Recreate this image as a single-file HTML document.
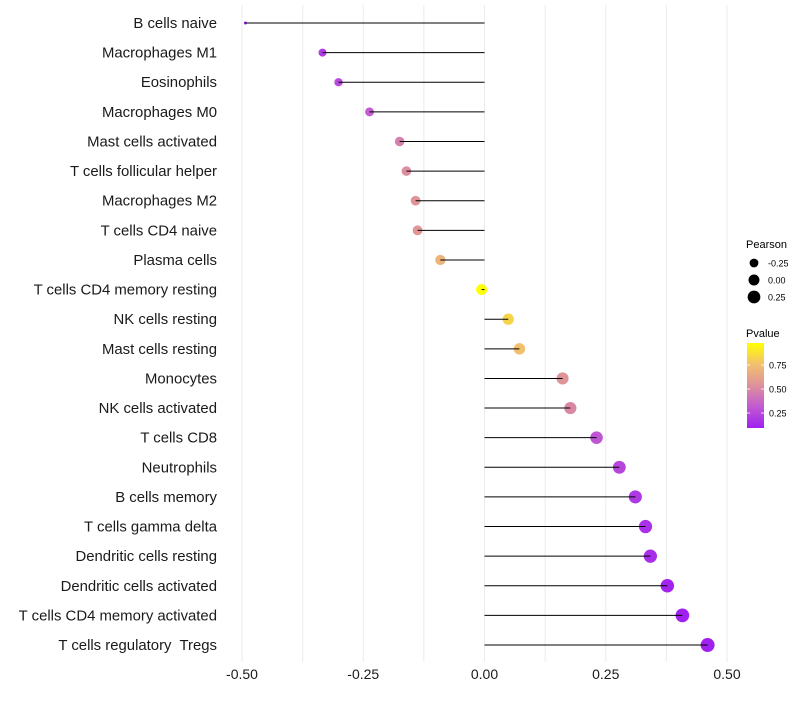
<!DOCTYPE html>
<html><head><meta charset="utf-8"><style>
body{margin:0;background:#fff;font-family:"Liberation Sans",sans-serif}
text{white-space:pre}
</style></head><body>
<svg id="chart" width="800" height="700" xmlns="http://www.w3.org/2000/svg"></svg>
<script>
const categories=["B cells naive","Macrophages M1","Eosinophils","Macrophages M0","Mast cells activated","T cells follicular helper","Macrophages M2","T cells CD4 naive","Plasma cells","T cells CD4 memory resting","NK cells resting","Mast cells resting","Monocytes","NK cells activated","T cells CD8","Neutrophils","B cells memory","T cells gamma delta","Dendritic cells resting","Dendritic cells activated","T cells CD4 memory activated","T cells regulatory  Tregs"];
const pearson=[-0.493,-0.334,-0.301,-0.237,-0.175,-0.161,-0.142,-0.138,-0.091,-0.006,0.049,0.072,0.161,0.177,0.231,0.278,0.311,0.332,0.342,0.377,0.408,0.460];
const pvalue=[0.02,0.2,0.25,0.33,0.47,0.52,0.55,0.56,0.7,0.98,0.83,0.76,0.55,0.5,0.3,0.24,0.19,0.16,0.15,0.11,0.08,0.05];
const xTicks=[-0.5,-0.25,0,0.25,0.5];
const xTickLabels=["-0.50","-0.25","0.00","0.25","0.50"];
const sizeLegend=[-0.25,0,0.25];
const sizeLegendLabels=["-0.25","0.00","0.25"];
const colorLegend=[0.75,0.5,0.25];
const colorLegendLabels=["0.75","0.50","0.25"];

const NS="http://www.w3.org/2000/svg";
const svg=document.getElementById('chart');
function x(v){return 484.5+v*485;}
function y(i){return 23+i*29.62;}
function rad(v){
 if(v<-0.334){const r=1.5+(v+0.493)/(0.159)*2.5;return Math.max(1.2,r);}
 return Math.sqrt(16+41.6*(v+0.334));
}
const pMin=0.094,pMax=0.98;
const stops=[[0,[160,32,240]],[0.25,[192,90,210]],[0.5,[222,145,155]],[0.75,[242,192,110]],[1,[255,255,0]]];
function col(p){let t=Math.min(1,Math.max(0,(p-pMin)/(pMax-pMin)));
 for(let k=1;k<stops.length;k++){if(t<=stops[k][0]){const a=stops[k-1],b=stops[k];const u=(t-a[0])/(b[0]-a[0]);
 const c=a[1].map((v,j)=>Math.round(v+(b[1][j]-v)*u));return `rgb(${c[0]},${c[1]},${c[2]})`;}}return 'rgb(255,255,0)';}
function el(tag,attrs,parent){const e=document.createElementNS(NS,tag);for(const k in attrs)e.setAttribute(k,attrs[k]);(parent||svg).appendChild(e);return e;}

const grid=el('g',{});


for(let v=-0.5;v<=0.5001;v+=0.125){
 const l=el('line',{x1:x(v),x2:x(v),y1:5,y2:662,stroke:'#ebebeb','stroke-width':1},grid);
 
 
}
categories.forEach((c,i)=>{
 const g=el('g',{});
 
 
 const lab=el('text',{x:217,y:y(i)+5,'text-anchor':'end','font-size':14.9,fill:'#1a1a1a'},g);
 lab.textContent=c;
 
 
 const pt=el('circle',{cx:x(pearson[i]),cy:y(i),r:rad(pearson[i]),fill:col(pvalue[i])},g);
 
 
 const ln=el('line',{x1:x(0),x2:x(pearson[i]),y1:y(i),y2:y(i),stroke:'#000','stroke-width':1},g);
 
 
});
xTicks.forEach((v,i)=>{
 const t=el('text',{x:x(v),y:679,'text-anchor':'middle','font-size':14,fill:'#1a1a1a'});
 t.textContent=xTickLabels[i];
 
 
});
const sl=el('g',{});


const st=el('text',{x:746,y:248,'font-size':11,fill:'#000'},sl);st.textContent='Pearson';


sizeLegend.forEach((v,i)=>{
 const cy=263+i*17;
 const c=el('circle',{cx:754,cy:cy,r:rad(v),fill:'#000'},sl);
 
 
 const t=el('text',{x:768,y:cy+3.5,'font-size':9,fill:'#000'},sl);t.textContent=sizeLegendLabels[i];
 
 
});
const cl=el('g',{});


const ct=el('text',{x:746,y:337,'font-size':11,fill:'#000'},cl);ct.textContent='Pvalue';


const defs=el('defs',{},cl);
const gr=el('linearGradient',{id:'pg',x1:0,y1:1,x2:0,y2:0},defs);
stops.forEach(s=>el('stop',{offset:s[0],'stop-color':`rgb(${s[1].join(',')})`},gr));
const bar=el('rect',{x:747,y:343,width:17,height:85,fill:'url(#pg)'},cl);


function cy(p){return 428-(p-pMin)/(pMax-pMin)*85;}
colorLegend.forEach((v,i)=>{
 el('line',{x1:747,x2:750,y1:cy(v),y2:cy(v),stroke:'#fff','stroke-width':0.8},cl);
 el('line',{x1:761,x2:764,y1:cy(v),y2:cy(v),stroke:'#fff','stroke-width':0.8},cl);
 const t=el('text',{x:769,y:cy(v)+3.5,'font-size':9,fill:'#000'},cl);t.textContent=colorLegendLabels[i];
 
 
});
</script>
</body></html>
